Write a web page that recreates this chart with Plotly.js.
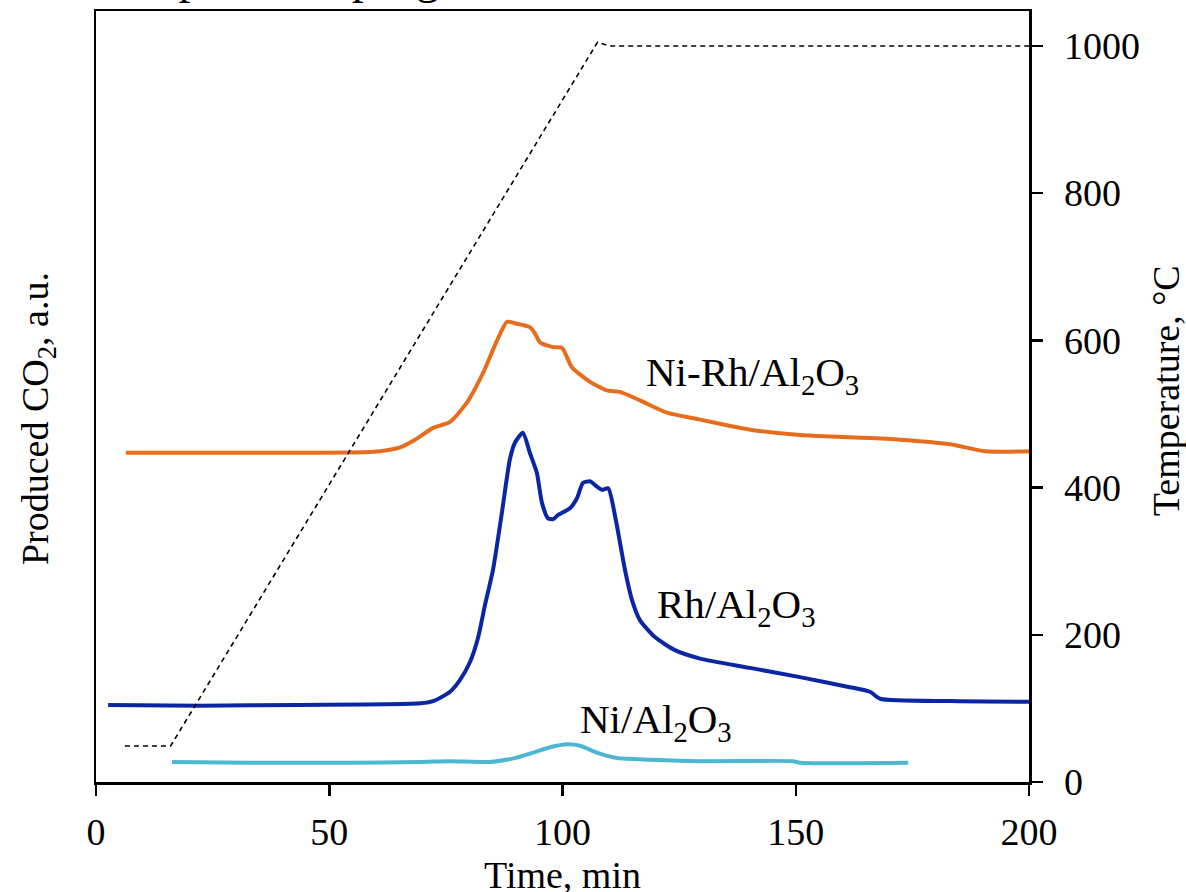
<!DOCTYPE html>
<html>
<head>
<meta charset="utf-8">
<script src="https://cdn.plot.ly/plotly-3.0.1.min.js"></script>
<style>
  html, body { margin: 0; padding: 0; background: #ffffff; }
  #chart { width: 1186px; height: 892px; }
</style>
</head>
<body>
<div id="chart"></div>
<script>
// Furnace temperature programme (right axis, °C)
const tempTime = [6.2, 16.0, 107.5, 110.0, 200.0];
const tempValue = [49, 49, 1005, 1000, 1000];

// Ni-Rh/Al2O3 CO2 signal (a.u.)
const niRhTime = [6.4, 22.3, 43.7, 58.7, 63.0, 65.2, 68.4, 72.2, 75.9, 79.5, 83.0, 86.0, 88.1, 89.8, 93.0, 94.1, 95.2, 98.0, 99.9, 102.0, 105.9, 109.5, 112.3, 116.6, 122.4, 129.5, 136.5, 140.2, 150.9, 161.6, 172.3, 183.1, 190.6, 200.0];
const niRhCO2 = [42.7, 42.7, 42.7, 42.8, 43.1, 43.4, 44.4, 45.9, 46.7, 49.2, 53.1, 57.3, 59.7, 59.5, 59.0, 58.2, 57.0, 56.4, 56.3, 53.8, 51.9, 50.8, 50.6, 49.5, 47.9, 47.0, 46.1, 45.7, 45.0, 44.7, 44.4, 43.8, 42.9, 42.9];

// Rh/Al2O3 CO2 signal (a.u.)
const rhTime = [2.6, 22.3, 43.7, 69.5, 72.7, 75.9, 78.0, 80.2, 81.9, 83.4, 85.1, 87.0, 88.7, 89.8, 91.5, 93.0, 94.5, 95.6, 96.9, 98.0, 99.0, 101.6, 103.1, 104.4, 105.9, 107.4, 108.5, 109.8, 111.3, 113.4, 114.9, 116.6, 119.8, 124.1, 129.5, 140.2, 150.9, 161.6, 165.9, 168.1, 183.1, 200.0];
const rhCO2 = [10.0, 9.9, 10.0, 10.2, 10.6, 11.7, 13.2, 15.6, 18.7, 23.0, 27.5, 34.9, 41.8, 44.0, 45.3, 42.7, 40.1, 36.2, 34.2, 34.1, 34.6, 35.5, 36.8, 38.8, 39.0, 38.3, 37.9, 38.1, 34.4, 27.5, 23.6, 21.0, 18.8, 17.1, 16.0, 14.8, 13.6, 12.3, 11.7, 10.8, 10.5, 10.4];

// Ni/Al2O3 CO2 signal (a.u.)
const niTime = [16.3, 33.0, 54.4, 69.5, 75.9, 84.5, 89.8, 93.7, 97.3, 101.0, 103.8, 107.4, 111.7, 118.8, 129.5, 149.4, 150.9, 174.1];
const niCO2 = [2.6, 2.5, 2.5, 2.6, 2.7, 2.6, 3.1, 3.8, 4.5, 4.9, 4.7, 3.8, 3.1, 2.9, 2.7, 2.7, 2.5, 2.5];

// Series labels
const seriesLabels = ['Ni-Rh/Al<sub>2</sub>O<sub>3</sub>', 'Rh/Al<sub>2</sub>O<sub>3</sub>', 'Ni/Al<sub>2</sub>O<sub>3</sub>'];
const xTicks = [0, 50, 100, 150, 200];
const tempTicks = [0, 200, 400, 600, 800, 1000];

const serif = "'Liberation Serif', 'Times New Roman', serif";
const ink = '#000000';

const traces = [
  {
    x: tempTime, y: tempValue, yaxis: 'y2', mode: 'lines',
    line: { color: ink, width: 1.6, dash: '5px,4px' }, hoverinfo: 'skip'
  },
  {
    x: niRhTime, y: niRhCO2, mode: 'lines',
    line: { color: '#E66D1E', width: 4, shape: 'spline', smoothing: 0.6 }
  },
  {
    x: rhTime, y: rhCO2, mode: 'lines',
    line: { color: '#0A26A3', width: 4, shape: 'spline', smoothing: 0.6 }
  },
  {
    x: niTime, y: niCO2, mode: 'lines',
    line: { color: '#4DB6D1', width: 4, shape: 'spline', smoothing: 0.6 }
  }
];

const labelFont = { family: serif, size: 38, color: ink };
const seriesFont = { family: serif, size: 41, color: ink };

const layout = {
  width: 1186, height: 892,
  margin: { l: 96, r: 157, t: 11, b: 110 },
  paper_bgcolor: '#ffffff', plot_bgcolor: '#ffffff',
  showlegend: false,
  font: { family: serif, size: 38, color: ink },
  xaxis: {
    range: [0, 200], tickvals: xTicks, ticks: 'outside', ticklen: 11, tickwidth: 2.5,
    tickcolor: ink, showline: true, linecolor: ink, linewidth: 2.5, mirror: true,
    showgrid: false, zeroline: false, tickfont: { family: serif, size: 38, color: ink },
    ticklabelstandoff: 4
  },
  yaxis: {
    range: [0, 100], showticklabels: false, ticks: '', showline: true,
    linecolor: ink, linewidth: 2.5, showgrid: false, zeroline: false
  },
  yaxis2: {
    overlaying: 'y', side: 'right', range: [0, 1047.5], tickvals: tempTicks,
    ticks: 'outside', ticklen: 11, tickwidth: 2.5, tickcolor: ink,
    showline: true, linecolor: ink, linewidth: 2.5, showgrid: false, zeroline: false,
    tickfont: { family: serif, size: 38, color: ink }, ticklabelstandoff: 14
  },
  annotations: [
    { xref: 'paper', yref: 'paper', x: 0.4995, y: -0.1206, text: 'Time, min',
      showarrow: false, xanchor: 'center', yanchor: 'middle', font: labelFont },
    { xref: 'paper', yref: 'paper', x: -0.0622, y: 0.472, text: 'Produced CO<sub>2</sub>, a.u.',
      textangle: -90, showarrow: false, xanchor: 'center', yanchor: 'middle', font: labelFont },
    { xref: 'paper', yref: 'paper', x: 1.1468, y: 0.508, text: 'Temperature, °C',
      textangle: -90, showarrow: false, xanchor: 'center', yanchor: 'middle', font: labelFont },
    { xref: 'x', yref: 'y', x: 140.8, y: 52.8, text: seriesLabels[0],
      showarrow: false, xanchor: 'center', yanchor: 'middle', font: seriesFont },
    { xref: 'x', yref: 'y', x: 137.4, y: 22.7, text: seriesLabels[1],
      showarrow: false, xanchor: 'center', yanchor: 'middle', font: seriesFont },
    { xref: 'x', yref: 'y', x: 120.1, y: 7.8, text: seriesLabels[2],
      showarrow: false, xanchor: 'center', yanchor: 'middle', font: seriesFont },
    { xref: 'paper', yref: 'paper', x: -0.0045, y: 1.0078, text: 'Temperature-programmed oxidation',
      showarrow: false, xanchor: 'left', yanchor: 'bottom', font: { family: serif, size: 48, color: ink } }
  ]
};

Plotly.newPlot('chart', traces, layout, { staticPlot: true, displayModeBar: false });
</script>
</body>
</html>
